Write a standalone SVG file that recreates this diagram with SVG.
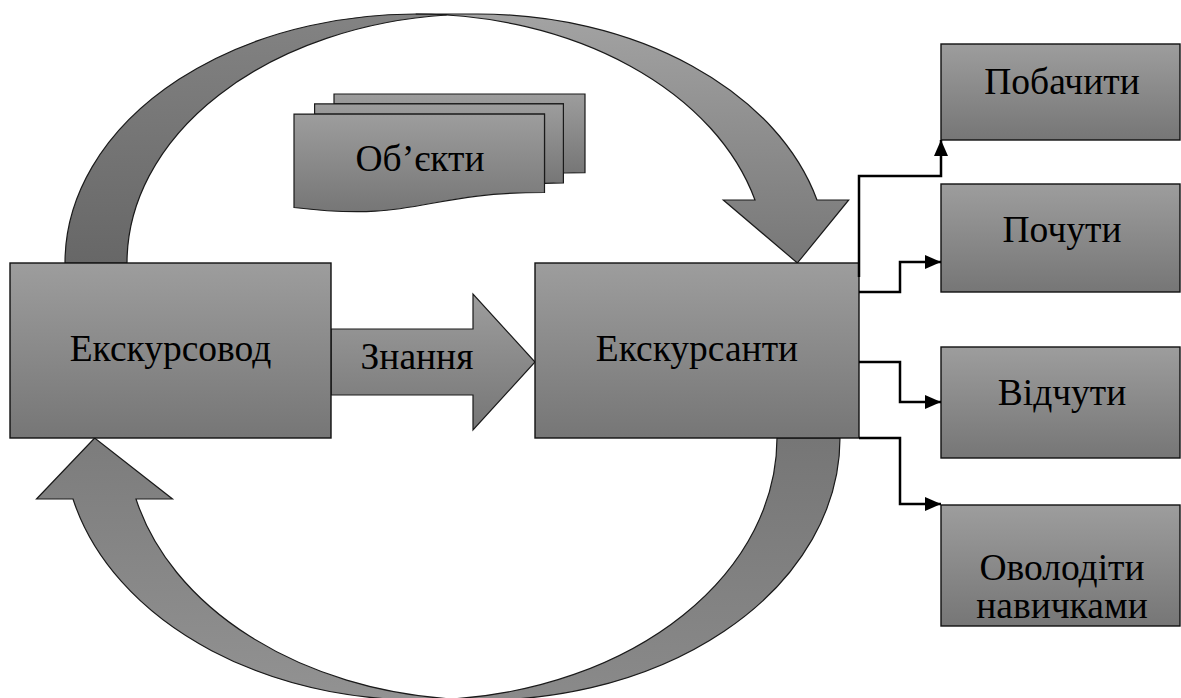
<svg xmlns="http://www.w3.org/2000/svg" width="1181" height="698" viewBox="0 0 1181 698">
<defs>
<linearGradient id="gBox" x1="0" y1="0" x2="0" y2="1">
<stop offset="0" stop-color="#9d9d9d"/>
<stop offset="1" stop-color="#767676"/>
</linearGradient>
<linearGradient id="gTopFront" gradientUnits="userSpaceOnUse" x1="0" y1="14" x2="0" y2="263">
<stop offset="0" stop-color="#a3a3a3"/>
<stop offset="1" stop-color="#777777"/>
</linearGradient>
<linearGradient id="gTopBack" gradientUnits="userSpaceOnUse" x1="0" y1="14" x2="0" y2="263">
<stop offset="0" stop-color="#838383"/>
<stop offset="1" stop-color="#676767"/>
</linearGradient>
<linearGradient id="gBot" gradientUnits="userSpaceOnUse" x1="0" y1="438" x2="0" y2="700">
<stop offset="0" stop-color="#7c7c7c"/>
<stop offset="1" stop-color="#929292"/>
</linearGradient>
<linearGradient id="gBotBack" gradientUnits="userSpaceOnUse" x1="0" y1="438" x2="0" y2="700">
<stop offset="0" stop-color="#767676"/>
<stop offset="1" stop-color="#8a8a8a"/>
</linearGradient>
<marker id="arr" markerUnits="userSpaceOnUse" markerWidth="16" markerHeight="14" refX="16" refY="7" orient="auto">
<path d="M0,0 L16,7 L0,14 Z" fill="#000"/>
</marker>
<style>
.shape{stroke:#1a1a1a;stroke-width:1.2;stroke-linejoin:miter}
.box{fill:url(#gBox);stroke:#111;stroke-width:1.4}
.conn{fill:none;stroke:#000;stroke-width:2.5;marker-end:url(#arr)}
</style>
</defs>

<g id="cycle-top">
<path class="shape" fill="url(#gTopBack)" d="M446.7,15 A350.7,249 0 0 0 127,263 L65,263 A350.7,249 0 0 1 446.7,15 Z"/>
<path class="shape" fill="url(#gTopFront)" d="M797.4,263 L723.3,200 L755,200 A350.7,249 0 0 0 415.7,14 L477.7,14 A350.7,249 0 0 1 817,200 L848.7,200 Z"/>
</g>

<g id="cycle-bottom">
<path class="shape" fill="url(#gBot)" d="M94.7,438 L36.5,499 L73,499 A356.9,262 0 0 0 451.6,699 A356.9,262 0 0 1 136,499 L172.5,499 Z"/>
<path class="shape" fill="url(#gBotBack)" d="M451.6,699 A356.9,262 0 0 0 840,438 L777,438 A356.9,262 0 0 1 451.6,699 Z"/>
</g>

<g font-family="Liberation Serif, Times New Roman, serif" font-size="37.5" fill="#000" text-anchor="middle">

<g id="objects">
<path class="shape" fill="url(#gBox)" d="M334,103.9 L334,94 L585,94 L585,172.6 C574.2,172.6 563.4,173 563.4,173 L563.4,103.9 Z"/>
<path class="shape" fill="url(#gBox)" d="M314.6,114.1 L314.6,103.9 L563.4,103.9 L563.4,182.8 C554,182.8 544.5,183.3 544.5,183.3 L544.5,114.1 Z"/>
<path class="shape" fill="url(#gBox)" d="M294,207.5 C419.3,222.6 419.3,192.5 544.5,192.5 L544.5,114.1 L294,114.1 Z"/>
<text x="420" y="171">Об’єкти</text>
</g>

<g id="knowledge">
<path class="shape" fill="url(#gBox)" d="M331,329 L473,329 L473,294 L535,362 L473,430 L473,395 L331,395 Z"/>
<text x="417" y="369">Знання</text>
</g>

<g id="guide">
<rect class="box" x="10" y="263" width="321" height="175"/>
<text x="170.5" y="361">Екскурсовод</text>
</g>

<g id="tourists">
<rect class="box" x="535" y="263" width="324" height="175"/>
<text x="697" y="361">Екскурсанти</text>
</g>

<g id="see">
<rect class="box" x="941" y="44" width="239" height="96"/>
<text x="1062" y="94">Побачити</text>
</g>

<g id="hear">
<rect class="box" x="941" y="184" width="239" height="108"/>
<text x="1062" y="242">Почути</text>
</g>

<g id="feel">
<rect class="box" x="941" y="347" width="239" height="111"/>
<text x="1062" y="405">Відчути</text>
</g>

<g id="skills">
<rect class="box" x="941" y="505" width="239" height="121"/>
<text x="1062" y="580">Оволодіти</text>
<text x="1062" y="618">навичками</text>
</g>

</g>

<g id="connectors">
<path class="conn" d="M859,277 V176 H941 V140"/>
<path class="conn" d="M859,292 H900 V262 H941"/>
<path class="conn" d="M859,362 H900 V402 H941"/>
<path class="conn" d="M859,438 H900 V504 H941"/>
</g>
</svg>
